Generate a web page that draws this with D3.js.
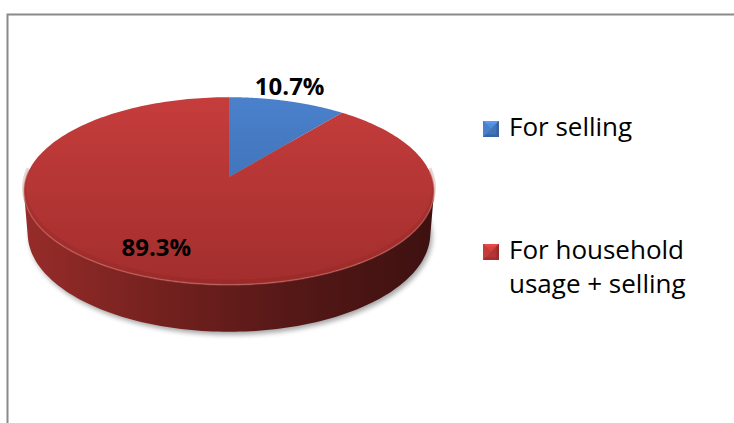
<!DOCTYPE html>
<html>
<head>
<meta charset="utf-8">
<script src="https://cdn.jsdelivr.net/npm/d3@7"></script>
<style>
  html, body { margin: 0; padding: 0; background: #fff; }
  svg { display: block; }
  text { font-family: "Open Sans", "DejaVu Sans", sans-serif; }
</style>
</head>
<body>
<svg id="chart" width="734" height="423"></svg>
<script>
// Share of producers by purpose of production
const categories = ["For selling", "For household usage + selling"];
const values = [10.7, 89.3];
const valueLabels = ["10.7%", "89.3%"];
const legendLines = [["For selling"], ["For household", "usage + selling"]];

const W = 734, H = 423;
const svg = d3.select("#chart");

// Slice colours: [top-face light, top-face dark, side light, side dark]
const palette = {
  "For selling": ["#4b81cb", "#3465a9", "#3a62a0", "#1e3a66"],
  "For household usage + selling": ["#c53d3c", "#a22e2d", "#972c2a", "#3d1110"]
};

// Perspective camera for the tilted disc (unit radius, thickness h)
const cx = 229, cy = 177;
const alpha = 26.9 * Math.PI / 180;
const sinA = Math.sin(alpha), cosA = Math.cos(alpha);
const D = 5.98, F = 1212, h = 0.2365;

function proj(theta, r, yw) {
  const x = r * Math.sin(theta), z = r * Math.cos(theta);
  const yc = yw * cosA + z * sinA;
  const dc = D + z * cosA - yw * sinA;
  return [cx + F * x / dc, cy - F * yc / dc];
}

function rim(a0, a1, yw, n) {
  const pts = [];
  for (let i = 0; i <= n; i++) pts.push(proj(a0 + (a1 - a0) * i / n, 1, yw));
  return pts;
}

const pie = d3.pie().sort(null).value(d => d.value);
const arcs = pie(categories.map((c, i) => ({ name: c, value: values[i], label: valueLabels[i] })));

const defs = svg.append("defs");

// Frame of the chart area
svg.append("path")
  .attr("d", `M7.5,${H} L7.5,14.5 L${W},14.5`)
  .attr("fill", "none")
  .attr("stroke", "#8a8a8a")
  .attr("stroke-width", 2);

// Soft drop shadow under the disc
defs.append("filter").attr("id", "shadowBlur")
  .attr("x", "-20%").attr("y", "-20%").attr("width", "140%").attr("height", "140%")
  .append("feGaussianBlur").attr("stdDeviation", 2.6);

const line = d3.line();
const bottomFull = rim(0, 2 * Math.PI, -h, 180);
svg.append("path")
  .attr("d", line(bottomFull.map(p => [p[0] + 2, p[1] + 3])) + "Z")
  .attr("fill", "#000")
  .attr("opacity", 0.35)
  .attr("filter", "url(#shadowBlur)");

// Side wall: only the front, camera-facing band of the cylinder
const tSil = Math.acos(-1 / (D * cosA));
const sideGrad = defs.append("linearGradient").attr("id", "sideGrad")
  .attr("gradientUnits", "userSpaceOnUse")
  .attr("x1", proj(-tSil, 1, 0)[0]).attr("x2", proj(tSil, 1, 0)[0])
  .attr("y1", 0).attr("y2", 0);
const sideCols = palette[categories[1]];
sideGrad.selectAll("stop")
  .data([[0, sideCols[2]], [0.3, "#77221f"], [0.65, "#551817"], [1, sideCols[3]]])
  .join("stop")
  .attr("offset", d => d[0]).attr("stop-color", d => d[1]);

// Front wall segments, clipped to each slice's angular range
arcs.forEach((a, i) => {
  const lo = Math.max(a.startAngle, tSil);
  const hi = Math.min(a.endAngle, 2 * Math.PI - tSil);
  if (hi <= lo) return;
  const top = rim(lo, hi, 0, 120);
  const bot = rim(hi, lo, -h, 120);
  svg.append("path")
    .attr("d", line(top.concat(bot)) + "Z")
    .attr("fill", i === 1 ? "url(#sideGrad)" : palette[a.data.name][3]);
});

// Top faces
const topY0 = proj(0, 1, 0)[1], topY1 = proj(Math.PI, 1, 0)[1];
arcs.forEach((a, i) => {
  const cols = palette[a.data.name];
  const g = defs.append("linearGradient").attr("id", "topGrad" + i)
    .attr("gradientUnits", "userSpaceOnUse")
    .attr("x1", 0).attr("x2", 0).attr("y1", topY0).attr("y2", topY1);
  g.append("stop").attr("offset", 0).attr("stop-color", cols[0]);
  g.append("stop").attr("offset", 1).attr("stop-color", cols[1]);
  const pts = [proj(0, 0, 0)].concat(rim(a.startAngle, a.endAngle, 0, 240));
  svg.append("path")
    .attr("d", line(pts) + "Z")
    .attr("fill", `url(#topGrad${i})`);
});

// Bevel highlight along the front rim
svg.append("path")
  .attr("d", line(rim(tSil - 0.25, 2 * Math.PI - tSil + 0.25, 0, 160)))
  .attr("fill", "none")
  .attr("stroke", "#e07a76")
  .attr("stroke-opacity", 0.45)
  .attr("stroke-width", 1.6);
svg.append("path")
  .attr("d", line(rim(tSil - 0.25, 2 * Math.PI - tSil + 0.25, 0, 160).map(p => [p[0], p[1] - 3])))
  .attr("fill", "none")
  .attr("stroke", "#7a1f1e")
  .attr("stroke-opacity", 0.18)
  .attr("stroke-width", 4);

// Value labels
const labelPlace = [
  { r: 1.12, nx: -4, ny: -7 },
  { r: 0.77, nx: -15, ny: -4 }
];
arcs.forEach((a, i) => {
  const mid = (a.startAngle + a.endAngle) / 2;
  const p = proj(mid, labelPlace[i].r, 0);
  svg.append("text")
    .attr("x", p[0] + labelPlace[i].nx)
    .attr("y", p[1] + labelPlace[i].ny)
    .attr("dy", "0.36em")
    .attr("text-anchor", "middle")
    .attr("font-size", 24)
    .attr("font-weight", 700)
    .attr("fill", "#000")
    .text(a.data.label);
});

// Legend with bevelled keys
const legendTop = [136, 259];
categories.forEach((c, i) => {
  const cols = palette[c];
  const g = svg.append("g").attr("transform", `translate(483,${legendTop[i] - 15})`);
  const s = 16;
  g.append("rect").attr("width", s).attr("height", s).attr("fill", cols[1]);
  g.append("path").attr("d", `M0,0 L${s},0 L${s / 2},${s / 2} Z`).attr("fill", d3.color(cols[0]).brighter(0.5));
  g.append("path").attr("d", `M0,0 L${s / 2},${s / 2} L0,${s} Z`).attr("fill", cols[0]);
  g.append("path").attr("d", `M${s},0 L${s / 2},${s / 2} L${s},${s} Z`).attr("fill", cols[2]);
  g.append("rect").attr("x", 2.5).attr("y", 2.5).attr("width", s - 5).attr("height", s - 5)
    .attr("fill", cols[0]).attr("opacity", 0.55);
  legendLines[i].forEach((t, j) => {
    svg.append("text")
      .attr("x", 509)
      .attr("y", legendTop[i] + j * 34)
      .attr("font-size", 26)
      .attr("fill", "#000")
      .text(t);
  });
});
</script>
</body>
</html>
